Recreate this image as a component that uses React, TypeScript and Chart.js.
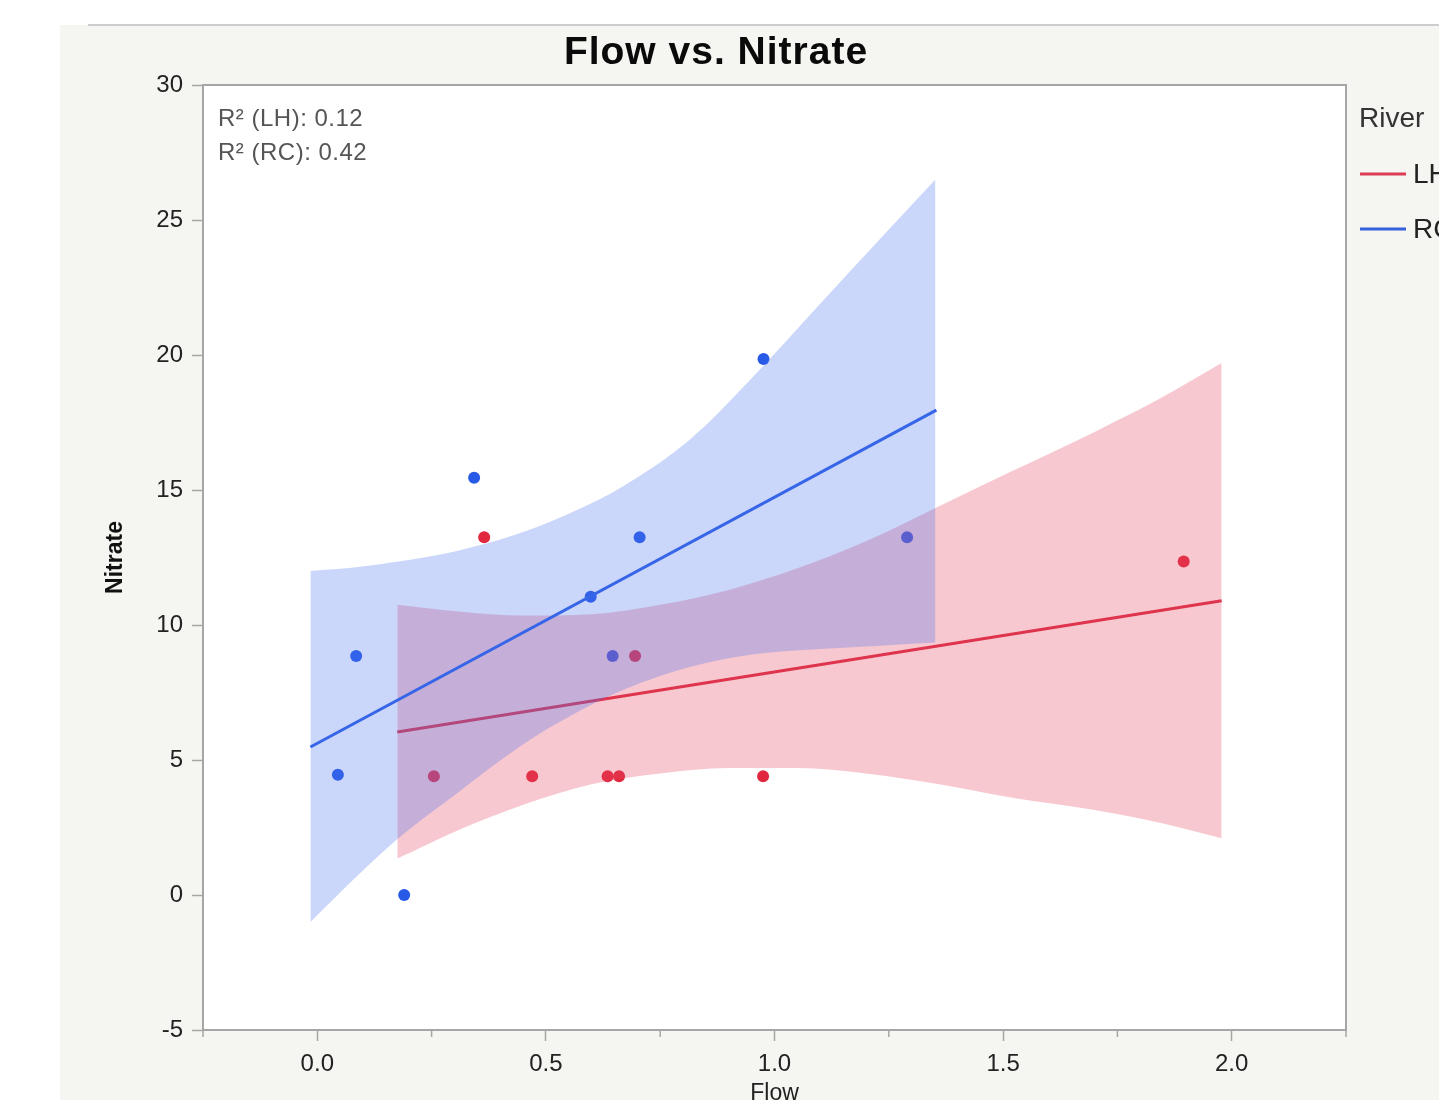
import React, { useEffect, useRef } from "react";
import { Chart, registerables } from "chart.js";

Chart.register(...registerables);

const FONT = '"Liberation Sans", Arial, Helvetica, sans-serif';

// Observations (Flow, Nitrate) per river
const LH_FLOW = [0.255, 0.365, 0.47, 0.635, 0.66, 0.695, 0.975, 1.895];
const LH_NITRATE = [4.4, 13.25, 4.4, 4.4, 4.4, 8.85, 4.4, 12.35];
const RC_FLOW = [0.045, 0.085, 0.19, 0.343, 0.598, 0.646, 0.705, 0.976, 1.29];
const RC_NITRATE = [4.45, 8.85, 0.0, 15.45, 11.05, 8.85, 13.25, 19.85, 13.25];

// Fitted lines (end points)
const RC_FIT_FLOW = [-0.015, 1.354];
const RC_FIT_NITRATE = [5.48, 17.96];
const LH_FIT_FLOW = [0.175, 1.978];
const LH_FIT_NITRATE = [6.04, 10.9];

// Confidence bands
const RC_BAND_FLOW = [-0.015, 0.09, 0.177, 0.308, 0.452, 0.561, 0.67, 0.817, 0.948, 1.092, 1.25, 1.352];
const RC_BAND_UPPER = [12.0, 12.15, 12.35, 12.75, 13.45, 14.2, 15.15, 16.9, 19.1, 21.75, 24.65, 26.5];
const RC_BAND_LOWER = [-1.0, 0.75, 2.1, 3.8, 5.6, 6.7, 7.6, 8.45, 8.9, 9.1, 9.25, 9.35];

const LH_BAND_FLOW = [0.175, 0.308, 0.452, 0.6, 0.75, 0.9, 1.05, 1.2, 1.36, 1.52, 1.7, 1.85, 1.978];
const LH_BAND_UPPER = [10.75, 10.5, 10.35, 10.4, 10.75, 11.3, 12.1, 13.1, 14.4, 15.7, 17.15, 18.45, 19.7];
const LH_BAND_LOWER = [1.35, 2.4, 3.35, 4.1, 4.5, 4.7, 4.7, 4.5, 4.1, 3.6, 3.15, 2.65, 2.1];

const X_TICKS = [0, 0.5, 1.0, 1.5, 2.0];
const X_MINOR_TICKS = [-0.25, 0.25, 0.75, 1.25, 1.75, 2.25];
const Y_TICKS = [-5, 0, 5, 10, 15, 20, 25, 30];

const TITLE = "Flow vs. Nitrate";
const X_TITLE = "Flow";
const Y_TITLE = "Nitrate";
const R2_LABELS = ["R\u00B2 (LH): 0.12", "R\u00B2 (RC): 0.42"];
const LEGEND_TITLE = "River";
const LEGEND_ITEMS = ["LH", "RC"];

const RED = "#dc2c44";
const BLUE = "#2d5ee6";
const RED_BAND = "rgba(232,72,98,0.30)";
const BLUE_BAND = "rgba(78,118,238,0.30)";
const LEGEND_COLORS = ["#dc3c54", "#3560dc"];
const AXIS_COLOR = "#a6a6a6";

const toXY = (xs: number[], ys: number[]) => xs.map((x, i) => ({ x, y: ys[i] }));

const decorPlugin = {
  id: "decor",
  beforeDraw(chart: any) {
    const { ctx, chartArea: a, width, height } = chart;
    ctx.save();
    ctx.fillStyle = "#ffffff";
    ctx.fillRect(0, 0, width, height);
    ctx.fillStyle = "#f5f5f1";
    ctx.fillRect(60, 25, width - 60, height - 25);
    ctx.strokeStyle = "#cdcdcd";
    ctx.lineWidth = 2;
    ctx.beginPath();
    ctx.moveTo(88, 25);
    ctx.lineTo(width, 25);
    ctx.stroke();
    ctx.fillStyle = "#ffffff";
    ctx.fillRect(a.left, a.top, a.right - a.left, a.bottom - a.top);
    ctx.restore();
  },
  afterDraw(chart: any) {
    const { ctx, chartArea: a } = chart;
    const xs = chart.scales.x;
    ctx.save();
    // frame
    ctx.strokeStyle = AXIS_COLOR;
    ctx.lineWidth = 2;
    ctx.strokeRect(a.left, a.top, a.right - a.left, a.bottom - a.top);
    // minor ticks
    ctx.lineWidth = 1.5;
    X_MINOR_TICKS.forEach((v) => {
      const px = xs.getPixelForValue(v);
      ctx.beginPath();
      ctx.moveTo(px, a.bottom);
      ctx.lineTo(px, a.bottom + 7);
      ctx.stroke();
    });
    // title
    ctx.fillStyle = "#0a0a0a";
    ctx.font = `bold 39px ${FONT}`;
    ctx.textAlign = "center";
    ctx.textBaseline = "middle";
    try { (ctx as any).letterSpacing = "1px"; } catch (e) {}
    ctx.fillText(TITLE, 716, 53);
    try { (ctx as any).letterSpacing = "0.5px"; } catch (e) {}
    // R² labels
    ctx.font = `24px ${FONT}`;
    ctx.fillStyle = "#555";
    ctx.textAlign = "left";
    R2_LABELS.forEach((t, i) => ctx.fillText(t, 218, 119 + i * 34));
    // legend
    ctx.fillStyle = "#333";
    ctx.font = `28px ${FONT}`;
    try { (ctx as any).letterSpacing = "0px"; } catch (e) {}
    ctx.fillText(LEGEND_TITLE, 1359, 119);
    LEGEND_ITEMS.forEach((t, i) => {
      const y = 174 + i * 55;
      ctx.strokeStyle = LEGEND_COLORS[i];
      ctx.lineWidth = 3;
      ctx.beginPath();
      ctx.moveTo(1360, y);
      ctx.lineTo(1406, y);
      ctx.stroke();
      ctx.fillStyle = "#222";
      ctx.fillText(t, 1413, y + 1);
    });
    ctx.restore();
  },
};

export default function App() {
  const ref = useRef<HTMLCanvasElement | null>(null);

  useEffect(() => {
    if (!ref.current) return;
    const bandCommon = {
      borderWidth: 0,
      borderColor: "rgba(0,0,0,0)",
      pointRadius: 0,
      pointHoverRadius: 0,
      cubicInterpolationMode: "monotone",
    };
    const chart = new Chart(ref.current, {
      type: "line",
      data: {
        datasets: [
          { ...bandCommon, label: "RC upper", data: toXY(RC_BAND_FLOW, RC_BAND_UPPER), fill: "+1", backgroundColor: BLUE_BAND, order: 1 },
          { ...bandCommon, label: "RC lower", data: toXY(RC_BAND_FLOW, RC_BAND_LOWER), fill: false, order: 1 },
          { ...bandCommon, label: "LH upper", data: toXY(LH_BAND_FLOW, LH_BAND_UPPER), fill: "+1", backgroundColor: RED_BAND, order: 3 },
          { ...bandCommon, label: "LH lower", data: toXY(LH_BAND_FLOW, LH_BAND_LOWER), fill: false, order: 3 },
          { label: "RC fit", data: toXY(RC_FIT_FLOW, RC_FIT_NITRATE), borderColor: BLUE, borderWidth: 3, pointRadius: 0, fill: false, order: 2 },
          { label: "LH fit", data: toXY(LH_FIT_FLOW, LH_FIT_NITRATE), borderColor: RED, borderWidth: 3, pointRadius: 0, fill: false, order: 4 },
          { label: "RC", data: toXY(RC_FLOW, RC_NITRATE), showLine: false, pointRadius: 6, pointBorderWidth: 0, pointBackgroundColor: "#285ae8", borderColor: "#285ae8", order: 5 },
          { label: "LH", data: toXY(LH_FLOW, LH_NITRATE), showLine: false, pointRadius: 6, pointBorderWidth: 0, pointBackgroundColor: "#e0283e", borderColor: "#e0283e", order: 5 },
        ] as any,
      },
      options: {
        responsive: false,
        animation: false,
        events: [],
        layout: { autoPadding: false, padding: { left: 100, top: 85, right: 93, bottom: 0 } },
        plugins: {
          legend: { display: false },
          tooltip: { enabled: false },
          title: { display: false },
        },
        scales: {
          x: {
            type: "linear",
            min: -0.25,
            max: 2.25,
            afterBuildTicks: (s: any) => {
              s.ticks = X_TICKS.map((v) => ({ value: v }));
            },
            afterFit: (s: any) => {
              s.height = 70;
            },
            grid: { drawOnChartArea: false, drawTicks: true, tickLength: 11, tickColor: AXIS_COLOR, tickWidth: 1.5 },
            border: { display: true, color: AXIS_COLOR, width: 2 },
            ticks: {
              autoSkip: false,
              maxRotation: 0,
              padding: 9,
              color: "#222",
              font: { family: FONT, size: 24 },
              callback: (v: any) => Number(v).toFixed(1),
            },
            title: {
              display: true,
              text: X_TITLE,
              color: "#222",
              font: { family: FONT, size: 23, lineHeight: 1 },
              padding: { top: 0, bottom: -5 },
            },
          },
          y: {
            type: "linear",
            min: -5,
            max: 30,
            afterBuildTicks: (s: any) => {
              s.ticks = Y_TICKS.map((v) => ({ value: v }));
            },
            afterFit: (s: any) => {
              s.width = 103;
            },
            grid: { drawOnChartArea: false, drawTicks: true, tickLength: 11, tickColor: AXIS_COLOR, tickWidth: 1.5 },
            border: { display: true, color: AXIS_COLOR, width: 2 },
            ticks: {
              autoSkip: false,
              padding: 9,
              color: "#222",
              font: { family: FONT, size: 24 },
              callback: (v: any) => String(v),
            },
            title: {
              display: true,
              text: Y_TITLE,
              color: "#111",
              font: { family: FONT, size: 23, weight: "bold", lineHeight: 1 },
              padding: { top: 4, bottom: 0 },
            },
          },
        },
      } as any,
      plugins: [decorPlugin],
    });
    return () => chart.destroy();
  }, []);

  return (
    <div style={{ position: "absolute", left: 0, top: 0, width: 1439, height: 1100, overflow: "hidden" }}>
      <canvas ref={ref} width={1439} height={1100} style={{ display: "block", width: 1439, height: 1100 }} />
    </div>
  );
}
